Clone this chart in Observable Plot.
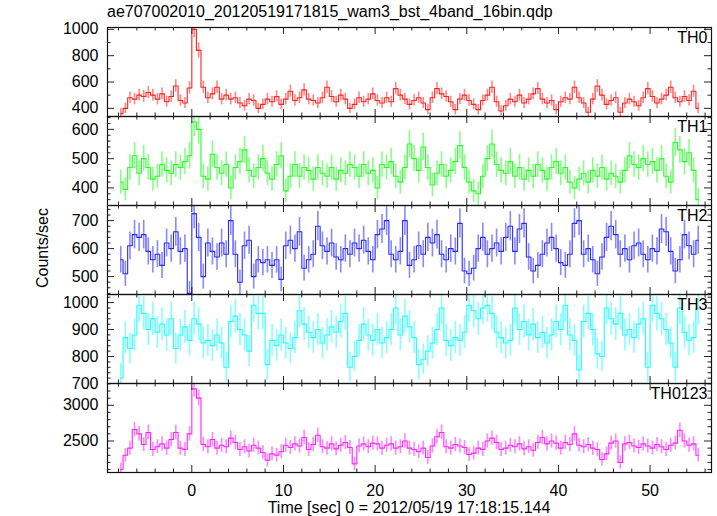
<!DOCTYPE html>
<html><head><meta charset="utf-8">
<script src="https://cdn.jsdelivr.net/npm/d3@7"></script>
<script src="https://cdn.jsdelivr.net/npm/@observablehq/plot@0.6"></script>
<style>
html,body{margin:0;padding:0;background:#fff;}
#chart{position:relative;width:717px;height:516px;font-family:"Liberation Sans",Arial,Helvetica,sans-serif;color:#000;overflow:hidden;}
.abs{position:absolute;white-space:nowrap;font-size:16px;line-height:18px;}
.panel{position:absolute;left:0;}
</style></head><body>
<div id="chart"></div>
<script>
// ---- text ----
const titleText = "ae707002010_20120519171815_wam3_bst_4band_16bin.qdp";
const xTitle = "Time [sec] 0 = 2012/05/19 17:18:15.144";
const yTitle = "Counts/sec";
const panelNames = ["TH0", "TH1", "TH2", "TH3", "TH0123"];

// ---- time bins (values read every 0.5 s, centres) ----
const binStart = -8, binWidth = 0.5, nBins = 127;
const time = d3.range(nBins).map(i => binStart + binWidth * (i + 0.5));
// integration time of one 16-bin WAM burst sample (16 x 1/64 s), used for Poisson errors
const exposure = 0.25;

// ---- counts/sec per band ----
const th0 = [360,400,480,470,500,490,520,500,470,510,450,490,570,460,440,555,1000,840,560,480,
510,560,470,500,470,480,440,420,470,460,400,430,470,450,490,430,470,530,460,480,
540,470,460,440,480,560,490,450,500,470,400,430,480,450,470,510,460,440,480,450,
550,500,470,430,460,480,440,390,480,550,510,490,450,390,470,500,460,430,390,460,
500,560,450,380,420,470,450,500,440,470,510,550,470,440,460,390,450,480,470,560,
480,440,370,470,570,500,430,460,480,370,440,470,450,420,480,550,490,440,470,500,
560,480,450,490,460,530,400];
const th1 = [420,395,470,510,450,500,470,430,440,480,460,450,480,470,490,510,625,600,440,430,
515,470,450,480,400,470,490,530,460,440,470,500,450,430,480,510,390,440,480,440,
470,460,430,470,450,440,470,430,460,450,480,470,440,480,450,460,400,480,470,490,
440,420,470,550,500,460,540,470,410,450,480,440,460,490,545,470,420,390,380,440,
500,550,480,460,450,490,440,470,430,460,440,480,460,430,470,490,450,470,420,400,
430,450,420,460,440,470,430,450,440,420,460,510,480,470,500,480,490,460,500,440,
420,555,530,490,520,460,360];
const th2 = [560,510,610,650,640,650,590,560,580,540,620,600,660,590,600,440,725,640,500,620,
590,570,620,580,700,580,480,610,630,500,560,550,560,540,560,490,610,630,600,660,
530,560,580,680,610,590,620,570,560,600,580,620,600,630,590,560,650,670,700,580,
560,590,700,540,560,610,580,640,620,650,580,560,600,590,690,520,510,530,600,640,
580,600,620,590,640,680,590,670,690,570,520,540,580,620,640,600,550,540,580,690,
700,580,600,560,510,570,640,680,650,580,600,560,610,620,580,560,600,590,670,660,
590,520,560,650,610,580,630];
const th3 = [720,870,830,880,990,960,900,940,890,920,880,940,830,880,910,860,940,920,850,860,
840,880,850,760,930,950,900,880,820,990,960,960,770,860,840,880,850,830,870,970,
920,890,870,900,850,880,910,890,930,960,760,800,860,920,880,860,900,850,870,900,
980,880,950,910,870,770,790,820,850,900,980,860,840,870,860,890,990,970,940,980,
990,960,890,870,850,860,980,900,930,880,920,870,890,850,880,930,900,990,880,860,
750,930,960,900,810,800,980,940,920,960,880,900,870,920,940,760,990,960,940,900,
850,760,980,890,860,870,980];
const th0123 = [2100,2300,2400,2660,2600,2450,2620,2380,2420,2460,2400,2520,2620,2400,2380,2600,3230,3100,2450,2420,
2520,2400,2440,2420,2540,2480,2380,2420,2360,2440,2400,2340,2230,2320,2300,2350,2440,2410,2460,2430,
2550,2380,2450,2580,2420,2400,2460,2390,2440,2480,2410,2180,2430,2460,2420,2470,2460,2400,2440,2460,
2400,2420,2500,2400,2380,2350,2400,2270,2430,2560,2620,2420,2400,2450,2430,2410,2310,2330,2400,2380,
2500,2540,2480,2380,2400,2440,2420,2460,2390,2420,2370,2480,2550,2460,2500,2470,2400,2480,2450,2600,
2440,2420,2450,2400,2380,2240,2320,2470,2500,2200,2460,2480,2430,2410,2460,2430,2400,2450,2420,2380,
2440,2470,2650,2500,2440,2460,2300];

// ---- axes ----
const xDomain = [-9.2, 56.7];
const xMajorTicks = [0, 10, 20, 30, 40, 50];
const xMinorStep = 2;
const yDomains = [[338, 1014], [340, 644], [436, 754], [700, 1030], [2059, 3305]];
const yMajorTicks = [[400, 600, 800, 1000], [400, 500, 600], [500, 600, 700], [700, 800, 900, 1000], [2500, 3000]];
const yMinorSteps = [100, 20, 20, 20, 100];
const colors = ["#ff2020", "#20ff20", "#2828ff", "#20ffff", "#ff20ff"];
const series = [th0, th1, th2, th3, th0123];

// ---- layout ----
const W = 717, ML = 107, MR = 6, PT = 27, PH = 89;
const FW = W - ML - MR;
const FONT = '"Liberation Sans", Arial, Helvetica, sans-serif';
const chart = document.getElementById("chart");

function addText(txt, css) {
  const d = document.createElement("div");
  d.className = "abs";
  d.textContent = txt;
  Object.assign(d.style, css);
  chart.appendChild(d);
}

const xMinor = d3.range(-8, 57, xMinorStep).filter(v => !xMajorTicks.includes(v));

series.forEach((vals, i) => {
  const last = i === series.length - 1;
  const data = vals.map((v, k) => {
    const e = Math.sqrt(v / exposure);
    return {t: time[k], v, lo: v - e, hi: v + e};
  });
  const dom = yDomains[i];
  const st = yMinorSteps[i];
  const yMinor = d3.range(Math.ceil(dom[0] / st) * st, dom[1], st).filter(v => !yMajorTicks[i].includes(v));
  const tickStroke = "#222";
  const MB = last ? 44 : 0;
  const marks = [
    Plot.ruleX(data, {x: "t", y1: "lo", y2: "hi", stroke: colors[i], strokeOpacity: 0.55, strokeWidth: 1.6, clip: true}),
    Plot.line(data, {x: "t", y: "v", curve: "step", stroke: colors[i], strokeWidth: 1.1, clip: true}),
    Plot.tickY(yMajorTicks[i], {y: d => d, insetRight: FW - 7, stroke: tickStroke}),
    Plot.tickY(yMajorTicks[i], {y: d => d, insetLeft: FW - 7, stroke: tickStroke}),
    Plot.tickY(yMinor, {y: d => d, insetRight: FW - 3.5, stroke: tickStroke}),
    Plot.tickY(yMinor, {y: d => d, insetLeft: FW - 3.5, stroke: tickStroke}),
    Plot.tickX(xMajorTicks, {x: d => d, insetBottom: PH - 7, stroke: tickStroke}),
    Plot.tickX(xMajorTicks, {x: d => d, insetTop: PH - 7, stroke: tickStroke}),
    Plot.tickX(xMinor, {x: d => d, insetBottom: PH - 3.5, stroke: tickStroke}),
    Plot.tickX(xMinor, {x: d => d, insetTop: PH - 3.5, stroke: tickStroke}),
    Plot.frame({stroke: "#111", strokeWidth: 1.2}),
    Plot.axisY(yMajorTicks[i], {tickSize: 0, tickPadding: 9, fontSize: 16, label: null, tickFormat: d3.format("d")}),
    Plot.text([panelNames[i]], {frameAnchor: "top-right", dx: -4, dy: 4, fontSize: 16, lineAnchor: "top", textAnchor: "end", fill: "#000"})
  ];
  if (last) marks.push(Plot.axisX(xMajorTicks, {tickSize: 0, tickPadding: 12, fontSize: 16, label: null, tickFormat: d3.format("d")}));
  const svg = Plot.plot({
    width: W, height: PH + MB,
    marginLeft: ML, marginRight: MR, marginTop: 0, marginBottom: MB,
    style: {background: "transparent", overflow: "visible", fontFamily: FONT, fontSize: "16px", color: "#000"},
    x: {domain: xDomain, axis: null},
    y: {domain: dom, axis: null},
    marks
  });
  const wrap = document.createElement("div");
  wrap.className = "panel";
  wrap.style.top = (PT + PH * i) + "px";
  wrap.appendChild(svg);
  chart.appendChild(wrap);
});

addText(titleText, {left: "107px", top: "3px"});
addText(xTitle, {left: ((ML + W - MR) / 2) + "px", top: "499px", transform: "translateX(-50%)"});
addText(yTitle, {left: "43px", top: "248px", transform: "translate(-50%,-50%) rotate(-90deg)"});
</script>
</body></html>
